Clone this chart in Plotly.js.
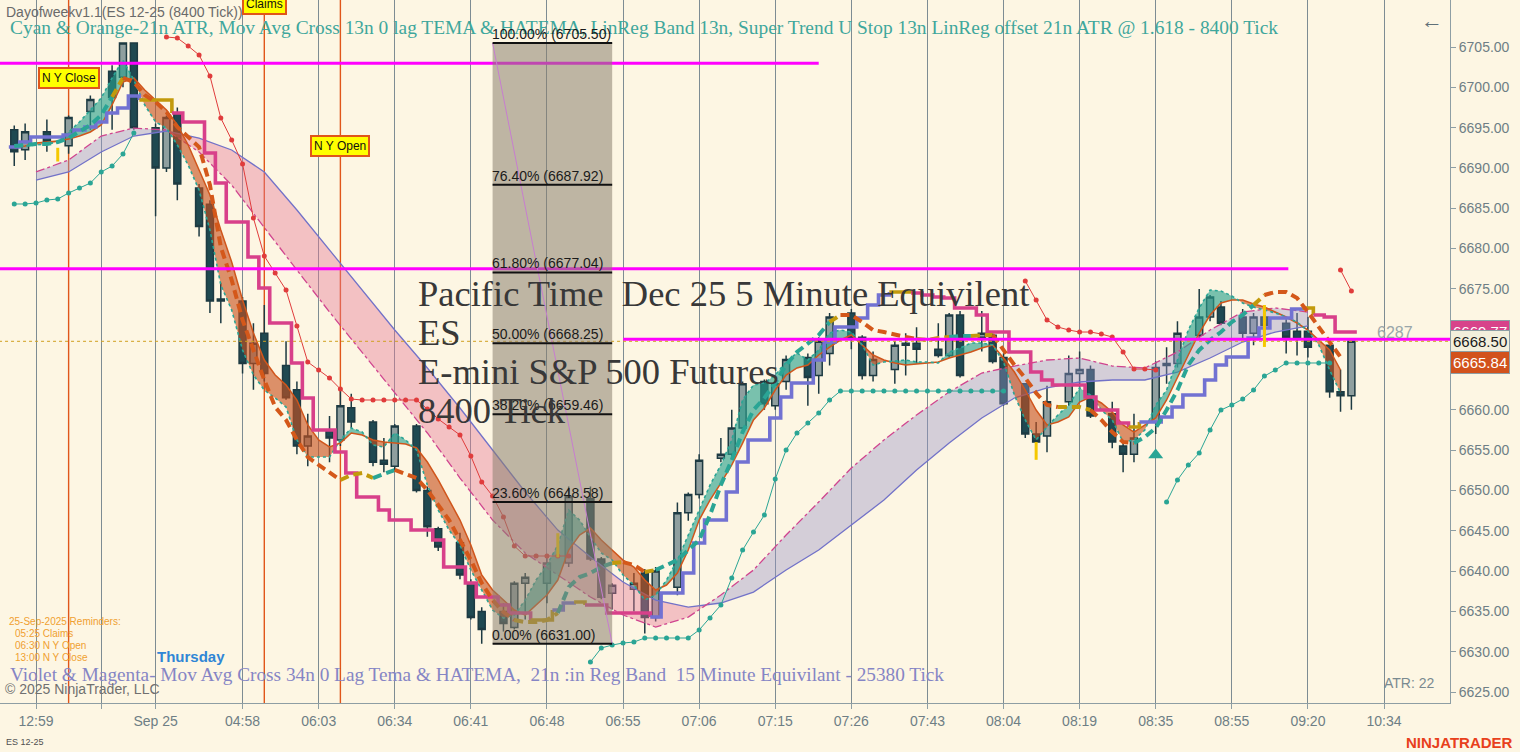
<!DOCTYPE html>
<html><head><meta charset="utf-8">
<script src="https://cdn.plot.ly/plotly-3.0.1.min.js"></script>
<style>html,body{margin:0;padding:0;background:#fdf6e3;}#chart{width:1520px;height:752px;}</style>
</head><body><div id="chart"></div>
<script>
// ---------- DATA ----------
const barOpen = [
6694.75,6692.25,null,6694.5,null,6692.75,null,6697.0,null,6702.0,
6701.25,6705.5,null,6695.0,6690.0,6696.75,null,6687.5,6685.5,6673.5,
null,6673.5,6665.75,6669.5,null,6665.5,6662.5,6655.5,null,6657.5,
6656.25,6660.25,null,6658.5,6653.75,6653.0,null,6658.0,6650.0,6645.25,
null,6643.5,6638.5,6635.0,null,6635.0,6633.0,6638.5,null,6638.5,
null,6641.0,null,6649.0,6641.5,6637.25,null,6637.75,6639.75,6634.25,
null,6638.0,6647.25,6649.5,null,6654.0,6654.5,6657.75,null,6663.5,
6660.5,6663.5,null,6666.5,6664.25,6667.0,null,6672.0,6669.0,6664.25,
null,6665.0,6668.0,6668.25,null,6667.5,6666.75,6671.75,null,6669.0,
6669.25,6666.5,null,6663.25,6657.0,6656.75,null,6661.0,6664.5,6665.0,
null,6659.5,6655.5,6654.5,null,6658.5,6665.5,6665.75,null,6669.25,
6671.5,6672.75,null,6671.5,6669.5,6671.5,null,6670.75,6669.75,6669.75,
null,6668.0,6662.25,6661.75];
const barHigh = [
6695.25,6695.5,null,6696.0,null,6696.5,null,6699.0,null,6702.75,
6705.5,6705.5,null,6695.5,6696.5,6697.5,null,6688.0,6686.0,6675.75,
null,6674.0,6670.75,6673.0,null,6668.5,6663.5,6659.5,null,6659.25,
6662.75,6662.0,null,6658.75,6656.5,6658.25,null,6658.25,6650.5,6645.5,
null,6644.75,6639.0,6635.5,null,6636.0,6638.75,6639.75,null,6641.75,
null,6650.5,null,6650.5,6641.75,6638.5,null,6639.75,6640.25,6640.5,
null,6648.5,6649.75,6654.5,null,6656.5,6660.0,6663.5,null,6663.75,
6663.5,6666.75,null,6667.0,6669.0,6672.0,null,6672.5,6669.25,6667.25,
null,6668.5,6669.5,6670.25,null,6670.75,6672.0,6672.25,null,6672.25,
6669.5,6667.0,null,6663.25,6658.5,6663.0,null,6666.75,6667.25,6665.5,
null,6661.0,6656.0,6659.5,null,6666.0,6667.75,6671.0,null,6675.0,
6674.25,6673.5,null,6672.5,6672.0,6673.0,null,6671.25,6672.0,6671.5,
null,6668.0,6665.0,6668.5];
const barLow = [
6690.25,6691.0,null,6692.0,null,6691.75,null,6694.75,null,6694.75,
6700.0,6694.75,null,6684.0,6689.5,6686.0,null,6681.5,6672.0,6670.75,
null,6664.5,6662.5,6663.5,null,6661.25,6654.5,6653.0,null,6653.5,
6655.5,6657.75,null,6653.0,6652.25,6652.5,null,6649.75,6644.25,6642.5,
null,6639.0,6634.0,6631.0,null,6632.5,6632.75,6634.0,null,6636.0,
null,6640.5,null,6641.25,6636.5,6635.25,null,6635.0,6632.25,6633.75,
null,6637.0,6646.25,6649.0,null,6653.5,6654.0,6657.0,null,6660.0,
6660.0,6662.5,null,6660.5,6662.0,6665.5,null,6667.5,6663.75,6663.5,
null,6663.25,6664.25,6665.75,null,6666.5,6666.5,6664.0,null,6667.25,
6665.75,6660.5,null,6656.5,6655.0,6654.75,null,6660.5,6662.75,6659.0,
null,6655.25,6652.25,6653.5,null,6657.0,6663.25,6665.25,null,6668.75,
6671.0,6670.5,null,6668.75,6668.0,6669.5,null,6667.0,6666.75,6666.5,
null,6661.5,6659.75,6660.0];
const barClose = [
6692.0,6694.5,null,6693.25,null,6696.25,null,6698.5,null,6698.75,
6705.5,6695.0,null,6690.0,6696.25,6688.0,null,6682.75,6673.5,6673.75,
null,6665.75,6668.25,6664.5,null,6661.5,6655.5,6656.75,null,6656.5,
6660.5,6658.5,null,6653.5,6653.25,6658.0,null,6650.0,6645.5,6643.0,
null,6639.5,6634.25,6632.75,null,6633.5,6638.5,6639.25,null,6641.0,
null,6649.25,null,6641.5,6636.75,6638.25,null,6638.5,6634.25,6640.0,
null,6647.25,6649.5,6653.75,null,6654.5,6657.75,6663.25,null,6660.75,
6663.25,6666.25,null,6664.0,6668.5,6671.5,null,6668.75,6664.25,6666.25,
null,6668.0,6668.25,6667.5,null,6666.75,6671.75,6664.25,null,6669.5,
6666.0,6660.75,null,6657.0,6656.0,6661.0,null,6664.5,6665.0,6659.25,
null,6656.0,6654.5,6656.5,null,6665.25,6665.75,6669.5,null,6671.5,
6674.0,6670.75,null,6669.5,6671.5,6670.5,null,6669.0,6668.75,6667.75,
null,6662.25,6661.75,6668.5];

const tickBars   = [2,8,13,21,28,35,42,49,56,63,70,77,84,91,98,105,112,119,126];
const tickLabels = ['12:59','','Sep 25','04:58','06:03','06:34','06:41','06:48','06:55','07:06',
                    '07:15','07:26','07:43','08:04','08:19','08:35','08:55','09:20','10:34'];
const priceTicks = [6625,6630,6635,6640,6645,6650,6655,6660,6665,6670,6675,6680,6685,6690,6695,6700,6705];
const priceGrid  = [6625,6640,6655,6670,6685,6700];

// 13n TEMA (orange thin) and fast line (teal dotted)
const temaSlow = [
6692.47,6692.72,6693.09,6693.22,6693.34,6693.59,6693.96,6694.46,6695.33,6697.81,
6700.66,6701.16,6699.67,6698.43,6697.19,6695.33,6692.85,6689.74,6686.64,6682.30,
6678.33,6673.62,6669.53,6666.18,6664.32,6663.08,6661.22,6658.12,6656.26,6655.39,
6655.88,6657.13,6656.88,6656.26,6656.01,6655.88,6655.76,6655.27,6653.53,6651.30,
6648.81,6646.33,6643.23,6639.51,6637.65,6636.41,6635.17,6634.55,6635.79,6637.03,
6638.89,6642.61,6644.47,6645.34,6643.85,6642.61,6641.37,6640.50,6638.89,6637.65,
6638.27,6639.76,6642.61,6646.33,6648.81,6650.92,6653.16,6655.88,6658.74,6660.23,
6662.46,6664.32,6665.19,6665.56,6666.80,6667.79,6668.66,6669.28,6668.04,6666.80,
6666.18,6665.81,6665.56,6665.68,6665.81,6665.93,6666.43,6666.80,6667.17,6667.67,
6668.04,6666.43,6664.69,6662.46,6659.98,6658.12,6658.49,6659.11,6660.97,6661.59,
6660.85,6659.73,6658.12,6657.25,6658.12,6658.99,6661.22,6664.07,6666.80,6669.53,
6671.76,6673.25,6673.62,6673.62,6673.12,6672.75,6672.13,6671.51,6670.77,6669.90,
6668.66,6667.42,6664.94];
const temaFast = [
6692.60,6692.72,6692.85,6692.97,6693.22,6694.46,6695.70,6697.19,6698.68,6701.16,
6703.39,6700.91,6697.81,6695.70,6694.95,6692.85,6690.36,6687.26,6682.30,6675.48,
6672.38,6667.42,6664.32,6662.46,6661.47,6660.35,6656.26,6654.15,6654.15,6654.15,
6656.26,6657.75,6657.25,6655.64,6655.39,6657.13,6656.26,6655.02,6650.67,6647.57,
6645.09,6643.23,6640.13,6637.65,6635.17,6634.18,6634.55,6636.41,6638.89,6640.75,
6643.23,6647.57,6646.33,6644.22,6642.24,6641.37,6639.51,6638.27,6636.41,6637.03,
6638.89,6641.37,6644.47,6647.57,6650.67,6653.16,6656.26,6661.22,6663.08,6663.33,
6664.32,6665.93,6667.05,6666.18,6667.42,6669.53,6669.90,6669.65,6668.04,6665.56,
6665.93,6666.06,6666.18,6665.93,6665.93,6665.81,6667.17,6667.67,6668.29,6668.29,
6668.04,6665.93,6661.84,6658.74,6656.26,6657.87,6659.36,6660.60,6662.71,6661.84,
6659.98,6658.74,6656.01,6656.26,6657.50,6660.60,6662.46,6666.18,6669.90,6672.63,
6674.86,6674.74,6674.12,6673.25,6672.75,6672.38,6672.01,6671.51,6670.89,6669.78,
6668.04,6664.94,6662.09];

// HATEMA (thick dashed, coloured by slope)
const hatema = [
6692.72,6692.85,6692.97,6692.97,6693.22,6693.71,6694.46,6695.33,6696.57,6698.80,
6701.16,6700.66,6699.05,6698.18,6696.94,6695.08,6693.84,6692.60,6687.88,6680.19,
6676.10,6671.14,6667.42,6663.70,6660.35,6658.74,6656.26,6654.15,6653.16,6652.29,
6651.30,6651.92,6652.16,6651.54,6652.04,6652.54,6652.04,6651.54,6650.05,6648.19,
6646.33,6643.85,6641.37,6638.52,6636.41,6634.92,6633.93,6633.68,6633.68,6633.93,
6634.80,6638.02,6639.26,6639.76,6640.50,6641.00,6641.12,6640.75,6639.89,6640.13,
6640.75,6641.37,6642.61,6643.85,6646.95,6650.67,6653.78,6657.25,6659.98,6661.47,
6663.33,6665.56,6667.17,6668.29,6669.28,6670.89,6671.76,6671.76,6670.89,6669.90,
6669.65,6669.28,6669.03,6668.78,6668.66,6668.91,6669.03,6669.16,6669.16,6669.28,
6669.28,6667.42,6665.56,6663.95,6662.09,6660.60,6660.35,6660.35,6660.35,6659.98,
6658.74,6657.25,6656.01,6655.88,6656.63,6657.75,6659.98,6662.46,6665.56,6667.42,
6668.66,6669.65,6670.89,6671.76,6673.00,6674.24,6674.61,6674.61,6673.87,6672.13,
6670.27,6668.41,6666.55];
const hatemaTrend = 't'.repeat(9)+'g'+'o'.repeat(20)+'ggg'+'tt'+'o'.repeat(11)+'gggg'+'ttttt'+'g'+'oo'+'g'+
  't'.repeat(16)+'g'+'o'.repeat(7)+'ggg'+'tt'+'gg'+'o'.repeat(6)+'ggg'+'oooo'+'t'.repeat(11)+'g'+'o'.repeat(8);

// Super Trend stop (step line)
const stopVals = [
6692.60,6693.22,6693.84,6693.84,6693.84,6694.09,6694.71,6695.08,6695.70,6696.81,
6697.43,6698.92,6698.43,6698.43,6698.43,6696.81,6695.70,6695.70,6691.85,6688.13,
6683.30,6683.30,6678.95,6675.11,6670.77,6670.77,6665.81,6661.47,6657.50,6657.50,
6654.77,6652.16,6649.19,6649.19,6647.57,6646.33,6646.33,6645.09,6645.09,6643.85,
6640.50,6640.50,6638.52,6636.78,6636.78,6635.79,6634.80,6634.80,6633.93,6633.93,
6635.17,6636.04,6636.16,6635.79,6635.79,6634.80,6634.80,6634.80,6634.80,6634.30,
6637.28,6637.28,6639.76,6643.48,6646.33,6646.33,6649.81,6653.53,6656.26,6656.26,
6658.99,6661.59,6663.33,6663.33,6666.18,6668.41,6670.27,6670.27,6671.39,6673.00,
6674.24,6674.61,6674.61,6674.49,6674.24,6673.99,6673.87,6672.63,6672.63,6671.76,
6669.65,6669.65,6667.17,6667.17,6664.69,6663.70,6663.08,6663.08,6663.08,6661.59,
6659.98,6659.98,6658.37,6657.87,6658.49,6658.49,6659.11,6660.35,6661.84,6661.84,
6663.70,6665.56,6666.55,6666.55,6668.91,6670.15,6671.39,6671.39,6672.50,6672.63,
6671.76,6671.51,6669.65,6669.65];
const stopTrend = 'v'.repeat(12)+'ggg'+'m'.repeat(33)+'gg'+'vv'+'g'+'m'.repeat(6)+'v'.repeat(22)+'gg'+
  'm'.repeat(20)+'g'+'v'.repeat(15)+'g'+'mmmm';

// 21n LinReg band (15 min equivalent)
const bandBar  = [2,5,8,11,14,17,20,23,26,29,32,35,38,41,44,47,50,53,56,59,
                  62,65,68,71,74,77,80,83,86,89,92,95,98,101,104,107,110,113,116,119];
const bandBlue = [6688.50,6689.50,6691.98,6693.96,6694.58,6693.71,6692.23,6689.50,6684.78,6679.82,
                  6674.86,6669.90,6665.19,6660.23,6655.02,6649.81,6645.09,6641.75,6638.64,6636.41,
                  6635.54,6636.04,6637.40,6640.13,6642.61,6645.71,6648.81,6652.54,6655.88,6658.99,
                  6661.47,6662.71,6663.45,6663.70,6663.70,6664.69,6666.43,6668.41,6669.65,6670.40];
const bandPink = [6689.50,6690.99,6693.96,6694.95,6694.71,6691.98,6687.88,6682.55,6677.34,6672.13,
                  6667.17,6662.21,6657.13,6651.54,6646.33,6642.24,6639.51,6636.78,6634.55,6633.06,
                  6634.30,6637.03,6640.13,6644.47,6648.57,6652.78,6656.26,6659.36,6662.21,6664.57,
                  6665.43,6666.18,6666.43,6665.43,6665.19,6667.17,6669.90,6672.13,6672.63,6672.13];

// ATR trailing dots
const redTrailStart = [14,93,122];
const redTrail = [
 [6706.24,6706.12,6705.12,6704.01,6701.40,6696.19,6693.47,6690.49,6683.79,6679.08,
  6676.97,6674.86,6670.40,6665.93,6664.94,6663.95,6662.58,6661.34,6661.22,6661.22,
  6661.22,6661.22,6661.22,6661.22,6660.10,6658.86,6657.87,6656.88,6654.27,6651.05,
  6649.31,6646.71,6643.11,6641.87,6641.87,6641.87,6641.87,6641.87],
 [6675.98,6673.62,6671.14,6670.27,6669.90,6669.65,6669.65,6669.40,6669.03,6667.17,6665.06,6665.06,6664.94],
 [6677.34,6674.74]];
const tealTrailStart = [0,53,106];
const tealTrail = [
 [6685.53,6685.53,6685.65,6686.02,6686.15,6686.89,6687.51,6688.13,6689.50,6690.24,6691.73,6694.33],
 [6628.72,6630.46,6630.83,6631.08,6631.20,6631.70,6631.70,6631.70,6631.70,6631.70,
  6632.69,6634.18,6635.79,6639.14,6642.61,6644.84,6646.95,6651.42,6655.02,6657.13,
  6658.37,6659.61,6661.22,6662.33,6662.33,6662.33,6662.33,6662.33,6662.33,6662.33,
  6662.33,6662.33,6662.33,6662.33,6662.33,6662.33,6662.33,6662.33,6662.33],
 [6648.57,6651.30,6653.16,6654.65,6657.50,6659.98,6660.60,6661.34,6662.46,6664.19,
  6664.94,6665.81,6665.81,6665.81,6665.81,6665.81]];

// horizontal magenta levels
const levelPrice = [6703.00, 6677.50, 6668.75];
const levelFrom  = [-1.4, -1.4, 56];
const levelTo    = [74, 117.2, 132.1];
const lastPrice  = 6668.50;

// Fibonacci retracement
const fibPct    = [100.0, 76.4, 61.8, 50.0, 38.2, 23.6, 0.0];
const fibPrice  = [6705.50, 6687.92, 6677.04, 6668.25, 6659.46, 6648.58, 6631.00];
const fibFromBar = 44, fibToBar = 55;

// events
const eventBars  = [5, 23, 30];
const eventNames = ['N Y Close', 'Claims', 'N Y Open'];

// signal ticks (yellow) and arrow marker
const signalBar = [4, 50, 94, 115];
const signalTop = [6692.5, 6644.7, 6656.0, 6673.0];
const signalBot = [6690.8, 6641.7, 6653.8, 6667.8];
const upArrowBar = [105], upArrowPrice = [6654.4];

// right-axis price markers
const markerPrice = [6669.77, 6668.50, 6665.84];
const markerBg    = ['#d8438a', '#f3efdc', '#d2521c'];
const markerFg    = ['#ffffff', '#1a1a1a', '#ffffff'];

// chart texts
const headerText  = 'Dayofweekv1.1(ES 12-25 (8400 Tick))';
const cyanLegend  = 'Cyan & Orange-21n ATR, Mov Avg Cross 13n 0 lag TEMA & HATEMA, LinReg Band 13n, Super Trend U Stop 13n LinReg offset 21n ATR @ 1.618 - 8400 Tick';
const violetLegend = 'Violet & Magenta- Mov Avg Cross 34n 0 Lag Tema & HATEMA,\u00a0\u00a021n :in Reg Band\u00a0\u00a015 Minute Equivilant - 25380 Tick';
const infoLines   = ['Pacific Time\u00a0\u00a0Dec 25 5 Minute Equivilent', 'ES', 'E-mini S&P 500 Futures', '8400 Tick'];
const reminderLines = ['25-Sep-2025 Reminders:', '05:25 Claims', '06:30 N Y Open', '13:00 N Y Close'];

// ---------- BUILD ----------
const SANS = 'Liberation Sans, Arial, sans-serif';
const SERIF = 'Liberation Serif, Times New Roman, serif';
const idx = barOpen.map((_, i) => i);
const traces = [];

traces.push({type:'candlestick', x: idx, open: barOpen, high: barHigh, low: barLow, close: barClose,
  increasing:{line:{color:'#1d3a42', width:1.5}, fillcolor:'#8f9f9f'},
  decreasing:{line:{color:'#1d3a42', width:1.5}, fillcolor:'#1f4951'},
  hoverinfo:'skip', showlegend:false});

function fillRuns(xs, s1, s2, colAbove, colBelow) {
  const runs = []; let cur = null;
  for (let k = 0; k < xs.length; k++) {
    const s = s1[k] >= s2[k];
    if (!cur) { cur = {s, x:[xs[k]], a:[s1[k]], b:[s2[k]]}; continue; }
    if (s !== cur.s) {
      const d0 = s1[k-1]-s2[k-1], d1 = s1[k]-s2[k], t = d0/(d0-d1);
      const xc = xs[k-1] + t*(xs[k]-xs[k-1]), yc = s1[k-1] + t*(s1[k]-s1[k-1]);
      cur.x.push(xc); cur.a.push(yc); cur.b.push(yc); runs.push(cur);
      cur = {s, x:[xc], a:[yc], b:[yc]};
    }
    cur.x.push(xs[k]); cur.a.push(s1[k]); cur.b.push(s2[k]);
  }
  runs.push(cur);
  return runs.map(r => ({type:'scatter', mode:'lines', x: r.x.concat(r.x.slice().reverse()),
    y: r.a.concat(r.b.slice().reverse()), fill:'toself', fillcolor: r.s ? colAbove : colBelow,
    line:{width:0}, hoverinfo:'skip', showlegend:false}));
}
function line(x, y, color, width, dash, extra) {
  return Object.assign({type:'scatter', mode:'lines', x, y, line:{color, width, dash: dash||'solid'},
    hoverinfo:'skip', showlegend:false}, extra||{});
}
function colourRuns(xs, ys, key, colours, width, dash, shape, tailX) {
  const out = []; let start = 0;
  for (let k = 1; k <= ys.length; k++) {
    if (k === ys.length || key[k] !== key[start]) {
      const end = Math.min(k, ys.length-1) + 1;
      const x = xs.slice(start, end), y = ys.slice(start, end);
      if (k === ys.length && tailX !== undefined) { x.push(tailX); y.push(ys[ys.length-1]); }
      out.push(line(x, y, colours[key[start]], width, dash, shape ? {line:{color:colours[key[start]], width, dash:dash||'solid', shape}} : {}));
      start = k;
    }
  }
  return out;
}

// LinReg band
traces.push(...fillRuns(bandBar, bandPink, bandBlue, 'rgba(150,148,200,0.40)', 'rgba(228,118,150,0.42)'));
traces.push(line(bandBar, bandBlue, '#7272c8', 1.3));
traces.push(line(bandBar, bandPink, '#d0458f', 1.3, 'dashdot'));

// TEMA cross fill
const temaIdx = temaSlow.map((_, i) => i);
traces.push(...fillRuns(temaIdx, temaFast, temaSlow, 'rgba(40,160,140,0.62)', 'rgba(200,80,30,0.62)'));
traces.push(line(temaIdx, temaSlow, '#d0561c', 1.5));
traces.push(line(temaIdx, temaFast, '#2aa595', 1.6, 'dot'));

// trailing dots
redTrail.forEach((seg, s) => traces.push(line(seg.map((_, k) => redTrailStart[s] + k), seg, '#e03c3c', 1, 'solid',
  {mode:'lines+markers', marker:{size:5, color:'#e03c3c'}})));
tealTrail.forEach((seg, s) => traces.push(line(seg.map((_, k) => tealTrailStart[s] + k), seg, '#2aa595', 1, 'solid',
  {mode:'lines+markers', marker:{size:5, color:'#2aa595'}})));

// stop (step)
traces.push(...colourRuns(idx.map(i => i - 0.5), stopVals, stopTrend,
  {v:'#7272d2', m:'#d8408a', g:'#c29a0c'}, 3.6, 'solid', 'hv', idx.length - 0.5));

// HATEMA dashed
traces.push(...colourRuns(temaIdx, hatema, hatemaTrend, {o:'#d4581a', t:'#2aa595', g:'#c29a0c'}, 4, '9px,5px'));

// magenta levels and last price
levelPrice.forEach((p, k) => traces.push(line([levelFrom[k], levelTo[k]], [p, p], '#ff00ff', 3)));
traces.push(line([-1.4, 132.1], [lastPrice, lastPrice], '#d0a020', 1, 'dot'));

// signals
signalBar.forEach((b, k) => traces.push(line([b, b], [signalBot[k], signalTop[k]], '#f5c800', 3)));
traces.push({type:'scatter', mode:'markers', x: upArrowBar, y: upArrowPrice,
  marker:{symbol:'triangle-up', size:13, color:'#2aa595'}, hoverinfo:'skip', showlegend:false});

// shapes
const shapes = [];
eventBars.forEach(b => shapes.push({type:'line', xref:'x', yref:'paper', x0:b, x1:b, y0:0, y1:1,
  line:{color:'#e0561a', width:1.4}, layer:'below'}));
shapes.push({type:'rect', xref:'x', yref:'y', x0:fibFromBar, x1:fibToBar, y0:fibPrice[fibPrice.length-1], y1:fibPrice[0],
  fillcolor:'rgba(138,128,112,0.55)', line:{width:0}, layer:'above'});
shapes.push({type:'line', xref:'x', yref:'y', x0:fibFromBar, x1:fibToBar, y0:fibPrice[0], y1:fibPrice[fibPrice.length-1],
  line:{color:'#c77dd0', width:1}, layer:'above'});
fibPrice.forEach(p => shapes.push({type:'line', xref:'x', yref:'y', x0:fibFromBar, x1:fibToBar, y0:p, y1:p,
  line:{color:'#111111', width:2}, layer:'above'}));

// annotations
const W = 1450, H = 703;
function note(text, px, py, opts) {
  return Object.assign({xref:'paper', yref:'paper', x: px/W, y: 1 - py/H, text, showarrow:false,
    xanchor:'left', yanchor:'middle'}, opts || {});
}
const ann = [];
ann.push(note(headerText, 4, 12, {font:{family:SANS, size:14, color:'#6a6a6a'}}));
ann.push(note(cyanLegend, 8, 28, {font:{family:SERIF, size:19.4, color:'#3fa79c'}}));
fibPrice.forEach((p, k) => ann.push({xref:'x', yref:'y', x:fibFromBar, y:p, xanchor:'left', yanchor:'bottom', xshift:-2,
  text: fibPct[k].toFixed(2) + '% (' + p.toFixed(2) + ')', showarrow:false, borderpad:0,
  font:{family:SANS, size:14, color:'#1a1a1a'}}));
const infoY = [293, 332, 371, 410];
infoLines.forEach((t, k) => ann.push(note(t, 416, infoY[k], {font:{family:SERIF, size:36.5, color:'#383838'}})));
const remY = [621, 633, 645, 657], remX = [7, 13, 13, 13];
reminderLines.forEach((t, k) => ann.push(note(t, remX[k], remY[k], {font:{family:SANS, size:10, color:'#f0a030'}})));
ann.push(note('<b>Thursday</b>', 155, 656, {font:{family:SANS, size:15, color:'#2f86d6'}}));
ann.push(note(violetLegend, 8, 674, {font:{family:SERIF, size:19.3, color:'#8585c5'}}));
ann.push(note('© 2025 NinjaTrader, LLC', 3, 689, {font:{family:SANS, size:14, color:'#707070'}}));
ann.push(note('ATR: 22', 1382, 683, {font:{family:SANS, size:14, color:'#7a8a90'}}));
ann.push(note('6287', 1375, 333, {font:{family:SANS, size:16, color:'#9aa6aa'}}));
ann.push(note('←', 1419, 20, {font:{family:SANS, size:22, color:'#607078'}}));
ann.push(note('ES 12-25', 4, 742, {font:{family:SANS, size:9, color:'#505050'}}));
ann.push(note('<b>NINJATRADER</b>', 1404, 742, {font:{family:SANS, size:15, color:'#e8401c'}}));
const eventY = [78, 4, 146];
eventBars.forEach((b, k) => ann.push({xref:'x', yref:'paper', x:b, y:1 - eventY[k]/H, text:eventNames[k], showarrow:false,
  xanchor:'center', yanchor:'middle', bgcolor:'#ffff00', bordercolor:'#e0561a', borderwidth:2, borderpad:2,
  font:{family:SANS, size:12, color:'#111111'}}));
markerPrice.forEach((p, k) => ann.push({xref:'paper', yref:'y', x:1, y:p, xanchor:'left', yanchor:'middle', xshift:0,
  text: p.toFixed(2), showarrow:false, bgcolor:markerBg[k], bordercolor:'#8e9ea4', borderwidth:1, borderpad:2,
  font:{family:SANS, size:15, color:markerFg[k]}}));

const yRange = [6623.64, 6710.83];
const layout = {
  width:1520, height:752, margin:{l:0, r:70, t:0, b:49},
  paper_bgcolor:'#fdf6e3', plot_bgcolor:'#fdf6e3', showlegend:false,
  boxgap:0.2, boxgroupgap:0.2,
  xaxis:{range:[-1.312, 132.07], tickvals:tickBars, ticktext:tickLabels, showgrid:true, gridcolor:'#7d8c93', gridwidth:1,
    showline:true, linecolor:'#8e9ea4', ticks:'outside', ticklen:5, tickcolor:'#8e9ea4', zeroline:false,
    tickfont:{family:SANS, size:14, color:'#6e7e85'}, rangeslider:{visible:false}, fixedrange:true},
  yaxis:{range:yRange, side:'right', tickvals:priceTicks, tickformat:'.2f', showgrid:false, showline:true,
    linecolor:'#8e9ea4', ticks:'outside', ticklen:5, tickcolor:'#8e9ea4', zeroline:false,
    tickfont:{family:SANS, size:14, color:'#6e7e85'}, fixedrange:true},
  yaxis2:{range:yRange, overlaying:'y', side:'right', tickvals:priceGrid, showgrid:true, gridcolor:'#8d9aa0', gridwidth:1,
    showticklabels:false, ticks:'', showline:false, zeroline:false, fixedrange:true},
  shapes, annotations: ann
};
Plotly.newPlot('chart', traces, layout, {displayModeBar:false, staticPlot:true});
</script></body></html>
